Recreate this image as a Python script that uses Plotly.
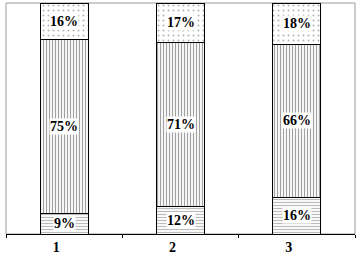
import plotly.graph_objects as go

categories = ["1", "2", "3"]
bottom_vals = [9, 12, 16]
middle_vals = [75, 71, 66]
top_vals = [16, 17, 18]

FONT = "Liberation Serif, Times New Roman, Times, serif"

fig = go.Figure()

series = [
    (bottom_vals, "-", "#7a7a7a", 3, 0.4),
    (middle_vals, "|", "#444444", 3, 0.4),
    (top_vals, ".", "#666666", 5, 0.12),
]
for vals, shape, fg, size, sol in series:
    fig.add_trace(go.Bar(
        x=categories, y=vals,
        marker=dict(color="white", line=dict(color="black", width=1),
                    pattern=dict(shape=shape, fgcolor=fg, bgcolor="white",
                                 size=size, solidity=sol, fillmode="overlay")),
        showlegend=False, hoverinfo="skip",
    ))

# labels with white background at segment centers
for i, c in enumerate(categories):
    base = 0
    for vals in (bottom_vals, middle_vals, top_vals):
        v = vals[i]
        fig.add_annotation(x=i, y=base + v / 2, text=f"<b>{v}%</b>", showarrow=False,
                           font=dict(family=FONT, size=14, color="black"),
                           bgcolor="white", borderpad=0)
        base += v

fig.add_shape(type="rect", xref="paper", yref="paper", x0=0, x1=1, y0=0, y1=1,
              line=dict(color="#9a9a9a", width=1), layer="below")

fig.update_layout(
    barmode="stack", bargap=0.59,
    width=360, height=258,
    margin=dict(l=6, r=5, t=3, b=17),
    paper_bgcolor="white", plot_bgcolor="white",
    xaxis=dict(type="category", range=[-0.5, 2.5], showline=True, linecolor="black", linewidth=1,
               ticks="outside", tickson="boundaries", ticklen=3, tickcolor="black",
               tickfont=dict(family=FONT, size=14, color="black", weight="bold"),
               showgrid=False, zeroline=False, ticklabelshift=-8),
    yaxis=dict(range=[0, 100], showticklabels=False, showgrid=False,
               zeroline=False, ticks=""),
)

fig.write_html("out.html")
